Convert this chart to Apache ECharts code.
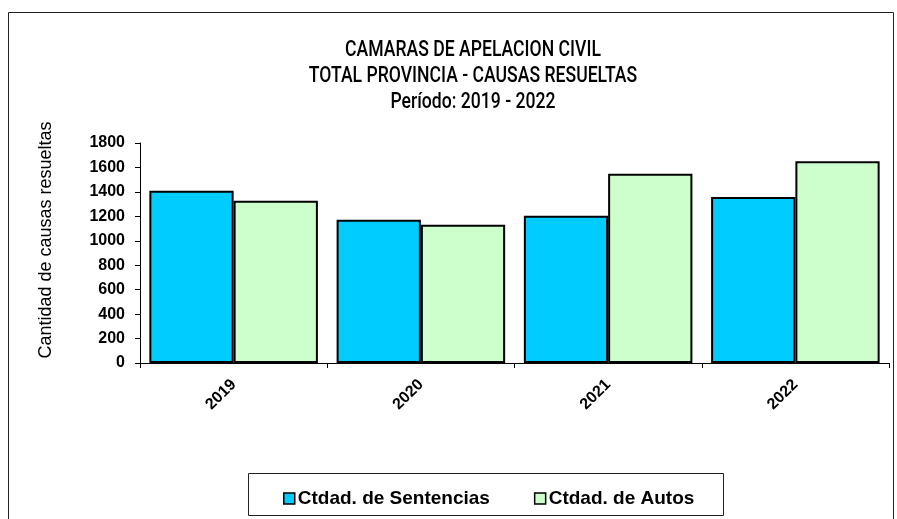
<!DOCTYPE html>
<html><head><meta charset="utf-8">
<script src="https://cdn.jsdelivr.net/npm/echarts@6/dist/echarts.min.js"></script>
<style>html,body{margin:0;padding:0;background:#fff}#c{width:897px;height:519px}</style>
</head><body><div id="c"></div>
<script>
const categories = ['2019', '2020', '2021', '2022'];
const sentencias = [1410, 1172, 1205, 1358];
const autos = [1328, 1131, 1549, 1650];
const yTicks = [0, 200, 400, 600, 800, 1000, 1200, 1400, 1600, 1800];
const titleLines = ['CAMARAS DE APELACION CIVIL', 'TOTAL PROVINCIA - CAUSAS RESUELTAS', 'Período: 2019 - 2022'];
const yName = 'Cantidad de causas resueltas';

const baseFont = 'Liberation Sans, Arial, sans-serif';
const titleGraphics = titleLines.map((t, i) => ({
  type: 'text', x: 473, y: 50 + i * 26, scaleX: 0.8, scaleY: 1,
  style: { text: t, font: '500 22px Roboto, ' + baseFont, fill: '#000', align: 'center', verticalAlign: 'middle' }
}));

const chart = echarts.init(document.getElementById('c'));
chart.setOption({
  animation: false,
  backgroundColor: '#fff',
  graphic: [
    { type: 'rect', shape: { x: 8.5, y: 12.5, width: 885, height: 520 }, style: { fill: 'none', stroke: '#222', lineWidth: 1 } },
    { type: 'rect', shape: { x: 248.5, y: 473.5, width: 475, height: 42 }, style: { fill: '#fff', stroke: '#222', lineWidth: 1 }, z: -1 },
    { type: 'text', x: 46, y: 240, rotation: Math.PI / 2,
      style: { text: yName, font: '18px ' + baseFont, fill: '#000', align: 'center', verticalAlign: 'middle' } }
  ].concat(titleGraphics),
  legend: {
    data: ['Ctdad. de Sentencias', 'Ctdad. de Autos'],
    left: 278, top: 484,
    itemWidth: 11, itemHeight: 11, itemGap: 44,
    icon: 'rect',
    itemStyle: { borderColor: '#000', borderWidth: 1.5 },
    textStyle: { fontFamily: baseFont, fontSize: 19, fontWeight: 'bold', color: '#000', padding: [0, 0, 0, -2] }
  },
  grid: { left: 140, right: 8, top: 143, bottom: 156 },
  xAxis: {
    type: 'category', data: categories,
    axisLine: { lineStyle: { color: '#000', width: 1 } },
    axisTick: { show: true, length: 5, lineStyle: { color: '#000' } },
    axisLabel: { rotate: 45, margin: 19, color: '#000', fontFamily: baseFont, fontSize: 16, fontWeight: 'bold' }
  },
  yAxis: {
    type: 'value', min: 0, max: 1800, interval: 200,
    axisLine: { show: true, lineStyle: { color: '#000' } },
    axisTick: { show: true, length: 5, lineStyle: { color: '#000' } },
    splitLine: { show: false },
    axisLabel: { color: '#000', fontFamily: baseFont, fontSize: 16, fontWeight: 'bold', margin: 15,
      formatter: v => yTicks.includes(v) ? String(v) : '' }
  },
  series: [
    { name: 'Ctdad. de Sentencias', type: 'bar', data: sentencias, barGap: '0%', barCategoryGap: '10%',
      itemStyle: { color: '#00CCFF', borderColor: '#000', borderWidth: 2 } },
    { name: 'Ctdad. de Autos', type: 'bar', data: autos,
      itemStyle: { color: '#CCFFCC', borderColor: '#000', borderWidth: 2 } }
  ]
});
</script></body></html>
